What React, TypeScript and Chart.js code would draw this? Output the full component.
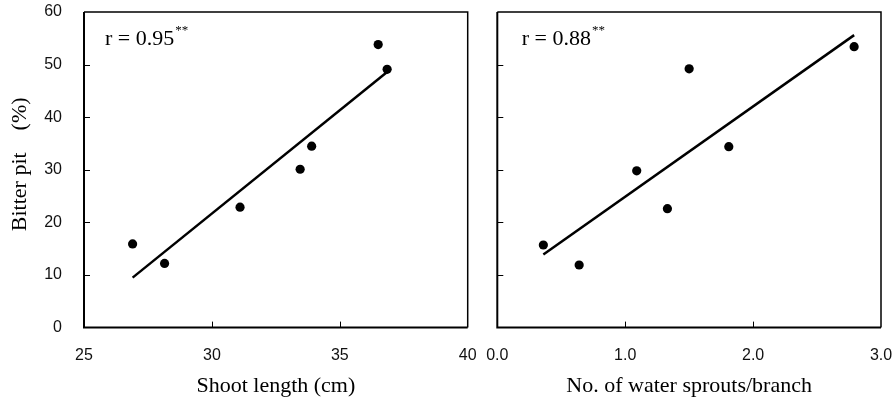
import React, { useEffect, useRef } from "react";
import { Chart, registerables } from "chart.js";
Chart.register(...registerables);

// ---- Data ----
const shootLength = [26.9, 28.15, 31.1, 33.45, 33.9, 36.5, 36.85];
const bitterPitA = [15.9, 12.2, 22.9, 30.1, 34.5, 53.8, 49.1];
const fitAx = [26.9, 36.85];
const fitAy = [9.5, 48.6];

const waterSprouts = [0.36, 0.64, 1.09, 1.33, 1.5, 1.81, 2.79];
const bitterPitB = [15.7, 11.9, 29.8, 22.6, 49.2, 34.4, 53.4];
const fitBx = [0.36, 2.79];
const fitBy = [13.9, 55.6];

const yRange = [0, 60, 10];
const xRangeA = [25, 40, 5];
const xRangeB = [0, 3, 1];

const rLabels = ["r = 0.95", "r = 0.88"];
const sigMark = "**";
const xTitles = ["Shoot length (cm)", "No. of water sprouts/branch"];
const yTitle = "  Bitter pit    (%)";

const SERIF = '"Liberation Serif", "Times New Roman", serif';
const SANS = '"Liberation Sans", Arial, sans-serif';

const framePlugin = {
  id: "frameTicks",
  afterDraw(chart: any) {
    const { ctx, chartArea } = chart;
    const { left, right, top, bottom } = chartArea;
    ctx.save();
    ctx.strokeStyle = "#000";
    // inward ticks
    ctx.lineWidth = 1;
    const xs = chart.scales.x;
    const ys = chart.scales.y;
    xs.ticks.forEach((t: any) => {
      const px = Math.round(xs.getPixelForValue(t.value)) + 0.5;
      if (px - left < 2 || right - px < 2) return;
      ctx.beginPath();
      ctx.moveTo(px, bottom);
      ctx.lineTo(px, bottom - 6);
      ctx.stroke();
    });
    ys.ticks.forEach((t: any) => {
      const py = Math.round(ys.getPixelForValue(t.value)) + 0.5;
      if (py - top < 2 || bottom - py < 2) return;
      ctx.beginPath();
      ctx.moveTo(left, py);
      ctx.lineTo(left + 6, py);
      ctx.stroke();
    });
    // frame
    ctx.lineWidth = 1.5;
    ctx.beginPath();
    ctx.moveTo(left, top);
    ctx.lineTo(right, top);
    ctx.lineTo(right, bottom);
    ctx.stroke();
    ctx.lineWidth = 2;
    ctx.beginPath();
    ctx.moveTo(left, top);
    ctx.lineTo(left, bottom);
    ctx.lineTo(right, bottom);
    ctx.stroke();
    // annotation
    const opts = chart.options.plugins.rLabel;
    if (opts && opts.text) {
      ctx.fillStyle = "#000";
      ctx.textBaseline = "alphabetic";
      ctx.textAlign = "left";
      ctx.font = `22px ${SERIF}`;
      const x0 = left + opts.dx;
      const y0 = top + 33;
      ctx.fillText(opts.text, x0, y0);
      const w = ctx.measureText(opts.text).width;
      ctx.font = `13px ${SERIF}`;
      ctx.fillText(sigMark, x0 + w + 1, y0 - 11);
    }
    ctx.restore();
  },
};

function makeConfig(
  xv: number[],
  yv: number[],
  fx: number[],
  fy: number[],
  xr: number[],
  xTitle: string,
  label: string,
  isLeft: boolean,
  dx: number
): any {
  return {
    type: "scatter",
    data: {
      datasets: [
        {
          data: xv.map((x, i) => ({ x, y: yv[i] })),
          pointRadius: 4.6,
          pointBackgroundColor: "#000",
          pointBorderWidth: 0,
          showLine: false,
        },
        {
          data: fx.map((x, i) => ({ x, y: fy[i] })),
          showLine: true,
          pointRadius: 0,
          borderColor: "#000",
          borderWidth: 2.5,
          fill: false,
        },
      ],
    },
    options: {
      responsive: false,
      animation: false,
      events: [],
      layout: {
        padding: isLeft
          ? { left: 0, right: 12.3, top: 12, bottom: 0 }
          : { left: 0, right: 15, top: 12, bottom: 0 },
      },
      plugins: {
        legend: { display: false },
        tooltip: { enabled: false },
        rLabel: { text: label, dx },
      },
      scales: {
        x: {
          type: "linear",
          min: xr[0],
          max: xr[1],
          grid: { display: false, drawTicks: true, tickLength: 18 },
          border: { display: false },
          ticks: {
            stepSize: xr[2],
            padding: 0,
            color: "#111",
            font: { family: SANS, size: 16 },
            callback: (v: number) => (isLeft ? String(v) : v.toFixed(1)),
            maxRotation: 0,
            autoSkip: false,
          },
          title: {
            display: true,
            text: xTitle,
            color: "#000",
            font: { family: SERIF, size: 22 },
            padding: { top: 0, bottom: 3 },
          },
          afterFit: (s: any) => {
            s.height = 74.4;
          },
        },
        y: {
          type: "linear",
          min: yRange[0],
          max: yRange[1],
          grid: { display: false, drawTicks: true, tickLength: 22 },
          border: { display: false },
          ticks: {
            display: isLeft,
            stepSize: yRange[2],
            padding: 0,
            color: "#111",
            font: { family: SANS, size: 16 },
          },
          title: {
            display: isLeft,
            text: yTitle,
            color: "#000",
            font: { family: SERIF, size: 22 },
            padding: { top: 7, bottom: 0 },
          },
          afterFit: (s: any) => {
            s.width = isLeft ? 84 : 17.3;
          },
        },
      },
    },
    plugins: [framePlugin],
  };
}

function Panel(props: { cfg: any; left: number; width: number }) {
  const ref = useRef<HTMLCanvasElement>(null);
  useEffect(() => {
    if (!ref.current) return;
    const chart = new Chart(ref.current, props.cfg);
    return () => chart.destroy();
  }, []);
  return (
    <canvas
      ref={ref}
      width={props.width}
      height={402}
      style={{ position: "absolute", left: props.left, top: 0, width: props.width, height: 402, display: "block" }}
    />
  );
}

export default function App() {
  const cfgA = makeConfig(shootLength, bitterPitA, fitAx, fitAy, xRangeA, xTitles[0], rLabels[0], true, 21);
  const cfgB = makeConfig(waterSprouts, bitterPitB, fitBx, fitBy, xRangeB, xTitles[1], rLabels[1], false, 24.4);
  return (
    <div style={{ position: "absolute", left: 0, top: 0, width: 896, height: 402, background: "#fff", overflow: "hidden" }}>
      <Panel cfg={cfgA} left={0} width={480} />
      <Panel cfg={cfgB} left={480} width={416} />
    </div>
  );
}
